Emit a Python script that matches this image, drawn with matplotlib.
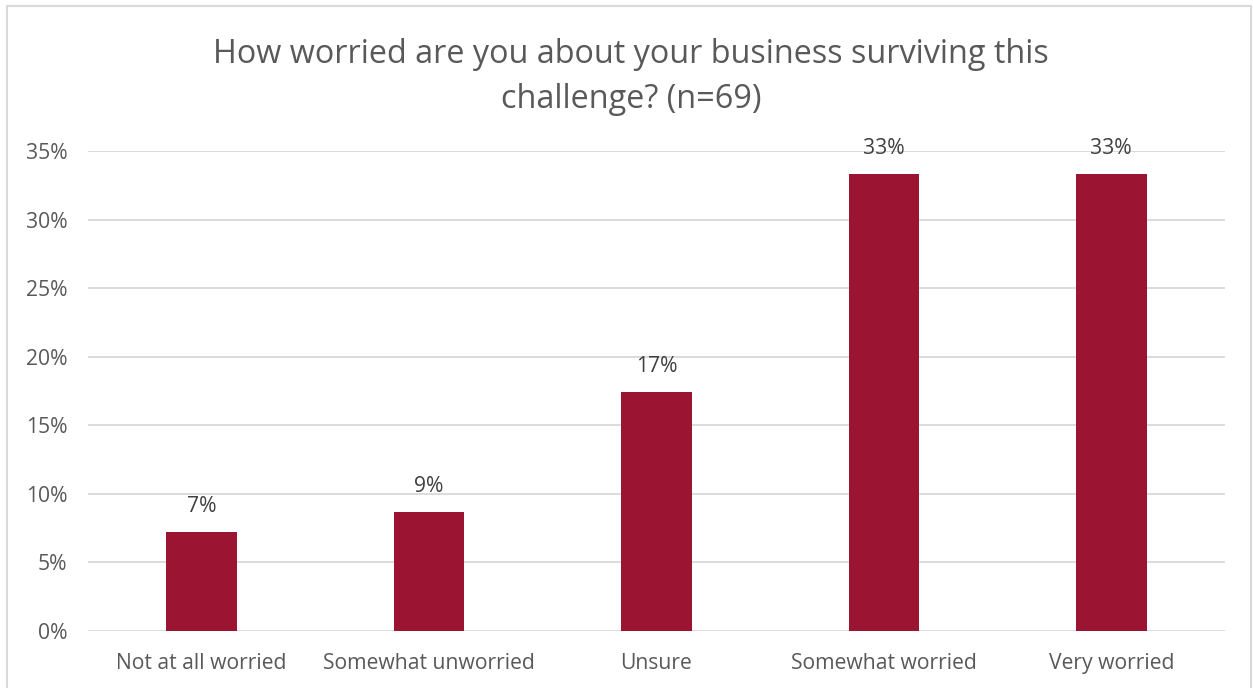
import matplotlib
matplotlib.use("Agg")
import matplotlib.pyplot as plt
from matplotlib.patches import Rectangle
from matplotlib.ticker import PercentFormatter

plt.rcParams['font.family'] = ['Open Sans', 'DejaVu Sans']

categories = ["Not at all worried", "Somewhat unworried", "Unsure", "Somewhat worried", "Very worried"]
counts = [5, 6, 12, 23, 23]
n = 69
shares = [c / n for c in counts]
yticks = [0, 0.05, 0.10, 0.15, 0.20, 0.25, 0.30, 0.35]

bar_color = "#9B1532"
grid_color = "#D9D9D9"
text_color = "#595959"

fig = plt.figure(figsize=(12.53, 6.88), dpi=100)
W, H = 1253, 688
ax = fig.add_axes([88 / W, 1 - 631 / H, (1225 - 88) / W, (631 - 151) / H])

x = range(len(categories))
bars = ax.bar(x, shares, width=0.31, color=bar_color, zorder=3)
for b, v in zip(bars, shares):
    ax.text(b.get_x() + b.get_width() / 2, v + 0.011, f"{v:.0%}",
            ha="center", va="bottom", fontsize=15.2, color="#404040", zorder=4)

ax.set_xlim(-0.5, len(categories) - 0.5)
ax.set_ylim(0, 0.35)
ax.set_yticks(yticks)
ax.yaxis.set_major_formatter(PercentFormatter(1.0, decimals=0))
ax.set_xticks(list(x))
ax.set_xticklabels(categories)
ax.grid(axis="y", color=grid_color, linewidth=1.3, zorder=0)
ax.tick_params(length=0, labelsize=15.2, labelcolor=text_color)
ax.tick_params(axis="x", pad=16)
ax.tick_params(axis="y", pad=15)
for s in ax.spines.values():
    s.set_visible(False)

fig.text(631 / W, 1 - 77 / H, "How worried are you about your business surviving this\nchallenge? (n=69)",
         ha="center", va="center", fontsize=23.3, color=text_color, linespacing=1.45)

# outer chart border
fig.patches.append(Rectangle((7 / W, -0.01), (1251 - 7) / W, 1 - 6 / H + 0.01,
                             transform=fig.transFigure, fill=False,
                             edgecolor=grid_color, linewidth=1.5))

fig.savefig("out.png", dpi=100)
